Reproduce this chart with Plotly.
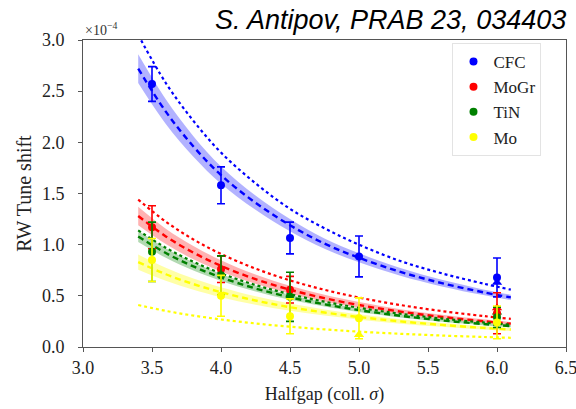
import plotly.graph_objects as go

# ---------------- data (values in units of 1e-4) ----------------
materials = ["CFC", "MoGr", "TiN", "Mo"]
colors = {"CFC": "#0000ff", "MoGr": "#ff0000", "TiN": "#008000", "Mo": "#ffff00"}
band_colors = {"CFC": "rgba(0,0,255,0.30)", "MoGr": "rgba(255,0,0,0.30)",
               "TiN": "rgba(0,128,0,0.30)", "Mo": "rgba(255,255,0,0.35)"}

# measured points
cfc_x = [3.5, 4.0, 4.5, 5.0, 6.0]
cfc_y = [2.57, 1.58, 1.065, 0.885, 0.68]
cfc_err = [0.17, 0.18, 0.155, 0.20, 0.19]

mogr_x = [3.5, 4.0, 4.5, 6.0]
mogr_y = [1.17, 0.76, 0.56, 0.33]
mogr_err = [0.21, 0.13, 0.13, 0.20]

tin_x = [3.5, 4.0, 4.5, 6.0]
tin_y = [0.93, 0.70, 0.49, 0.29]
tin_err = [0.29, 0.19, 0.24, 0.10]

mo_x = [3.5, 4.0, 4.5, 5.0, 6.0]
mo_y = [0.85, 0.50, 0.30, 0.28, 0.24]
mo_err = [0.21, 0.20, 0.17, 0.20, 0.16]

# extra (triangle) measurements
tri_x = [5.0, 6.0, 6.0, 6.0]
tri_y = [0.12, 0.38, 0.34, 0.63]
tri_mat = ["Mo", "MoGr", "TiN", "CFC"]

# curves
curve_x = [3.4, 3.6, 3.8, 4.0, 4.25, 4.5, 4.75, 5.0, 5.3, 5.6, 5.9, 6.1]

cfc_fit = [2.72, 2.30, 1.96, 1.68, 1.41, 1.19, 1.01, 0.872, 0.734, 0.624, 0.535, 0.485]
cfc_hw = [0.14, 0.12, 0.10, 0.085, 0.07, 0.06, 0.05, 0.045, 0.038, 0.032, 0.028, 0.026]
cfc_theory = [3.05, 2.58, 2.21, 1.90, 1.60, 1.35, 1.16, 1.00, 0.84, 0.72, 0.62, 0.56]

mogr_fit = [1.28, 1.081, 0.922, 0.793, 0.663, 0.560, 0.477, 0.410, 0.346, 0.294, 0.252, 0.228]
mogr_hw = [0.09, 0.075, 0.065, 0.055, 0.046, 0.039, 0.033, 0.029, 0.024, 0.021, 0.018, 0.016]
mogr_theory = [1.44, 1.225, 1.051, 0.909, 0.766, 0.651, 0.559, 0.483, 0.410, 0.351, 0.303, 0.275]

tin_fit = [1.08, 0.918, 0.787, 0.680, 0.572, 0.486, 0.417, 0.360, 0.305, 0.260, 0.225, 0.204]
tin_hw = [0.055, 0.047, 0.040, 0.034, 0.029, 0.025, 0.021, 0.018, 0.016, 0.014, 0.012, 0.011]
tin_theory = [1.14, 0.970, 0.832, 0.720, 0.606, 0.516, 0.443, 0.383, 0.325, 0.278, 0.240, 0.218]

mo_fit = [0.83, 0.711, 0.615, 0.535, 0.454, 0.389, 0.337, 0.293, 0.250, 0.216, 0.187, 0.171]
mo_hw = [0.075, 0.064, 0.055, 0.048, 0.041, 0.035, 0.030, 0.026, 0.022, 0.019, 0.017, 0.015]
mo_theory = [0.41, 0.353, 0.307, 0.269, 0.230, 0.198, 0.172, 0.150, 0.129, 0.112, 0.098, 0.090]

x_ticks = [3.0, 3.5, 4.0, 4.5, 5.0, 5.5, 6.0, 6.5]
y_ticks = [0.0, 0.5, 1.0, 1.5, 2.0, 2.5, 3.0]

points = {"CFC": (cfc_x, cfc_y, cfc_err), "MoGr": (mogr_x, mogr_y, mogr_err),
          "TiN": (tin_x, tin_y, tin_err), "Mo": (mo_x, mo_y, mo_err)}
curves = {"CFC": (cfc_fit, cfc_hw, cfc_theory), "MoGr": (mogr_fit, mogr_hw, mogr_theory),
          "TiN": (tin_fit, tin_hw, tin_theory), "Mo": (mo_fit, mo_hw, mo_theory)}

SERIF = "Liberation Serif, DejaVu Serif, serif"

fig = go.Figure()

# bands
for m in materials:
    fit, hw, th = curves[m]
    lo = [f - h for f, h in zip(fit, hw)]
    hi = [f + h for f, h in zip(fit, hw)]
    fig.add_trace(go.Scatter(x=curve_x, y=lo, mode="lines", line=dict(width=0, shape="spline"),
                             showlegend=False, hoverinfo="skip"))
    fig.add_trace(go.Scatter(x=curve_x, y=hi, mode="lines", line=dict(width=0, shape="spline"),
                             fill="tonexty", fillcolor=band_colors[m], showlegend=False, hoverinfo="skip"))

# lines
for m in materials:
    fit, hw, th = curves[m]
    fig.add_trace(go.Scatter(x=curve_x, y=th, mode="lines",
                             line=dict(color=colors[m], width=2.2, dash="dot", shape="spline"),
                             showlegend=False))
    fig.add_trace(go.Scatter(x=curve_x, y=fit, mode="lines",
                             line=dict(color=colors[m], width=2.4, dash="6px,4px", shape="spline"),
                             showlegend=False))

# triangles
for tx, ty, tm in zip(tri_x, tri_y, tri_mat):
    fig.add_trace(go.Scatter(x=[tx], y=[ty], mode="markers",
                             marker=dict(symbol="triangle-up", size=9, color=colors[tm]),
                             showlegend=False))

# measurements
for m in materials:
    px, py, pe = points[m]
    fig.add_trace(go.Scatter(x=px, y=py, mode="markers", name=m,
                             marker=dict(symbol="circle", size=8, color=colors[m]),
                             error_y=dict(type="data", array=pe, color=colors[m],
                                          thickness=1.6, width=4)))

fig.update_layout(
    width=576, height=409,
    margin=dict(l=83, r=10, t=40, b=62, autoexpand=False),
    paper_bgcolor="white", plot_bgcolor="white",
    font=dict(family=SERIF, size=18, color="#222"),
    legend=dict(x=0.765, y=0.99, xanchor="left", yanchor="top", traceorder="normal",
                bgcolor="rgba(255,255,255,0.9)", bordercolor="#e3e3e3", borderwidth=1,
                font=dict(family=SERIF, size=17, color="#222"), itemwidth=30),
    xaxis=dict(range=[3.0, 6.5], tickvals=x_ticks, ticktext=[f"{v:.1f}" for v in x_ticks],
               showgrid=False, zeroline=False, showline=True, linecolor="#555", linewidth=1,
               mirror=True, ticks="outside", ticklen=4, tickcolor="#555", automargin=False,
               ticklabeloverflow="allow",
               tickfont=dict(family=SERIF, size=18, color="#222"),
               title=dict(text="Halfgap (coll. <i>σ</i>)", font=dict(family=SERIF, size=18), standoff=10)),
    yaxis=dict(range=[0.0, 3.0], tickvals=y_ticks, ticktext=[f"{v:.1f}" for v in y_ticks],
               showgrid=False, zeroline=False, showline=True, linecolor="#555", linewidth=1,
               mirror=True, ticks="outside", ticklen=4, tickcolor="#555", automargin=False,
               ticklabeloverflow="allow",
               tickfont=dict(family=SERIF, size=18, color="#222"), ticklabelstandoff=10,
               title=dict(text="RW Tune shift", font=dict(family=SERIF, size=20), standoff=4)),
)

fig.add_annotation(text="×10<sup>−4</sup>", xref="paper", yref="paper", x=0.0, y=1.0,
                   xanchor="left", yanchor="bottom", showarrow=False,
                   font=dict(family=SERIF, size=14, color="#333"))
fig.add_annotation(text="<i>S. Antipov, PRAB 23, 034403</i>", xref="paper", yref="paper",
                   x=1.005, y=1.065, xanchor="right", yanchor="middle", showarrow=False,
                   font=dict(family="Liberation Sans, Arial, sans-serif", size=27, color="black"))

fig.write_html("out.html", config={"displayModeBar": False},
               post_script="document.body.style.margin='0';document.body.style.overflow='hidden';")
